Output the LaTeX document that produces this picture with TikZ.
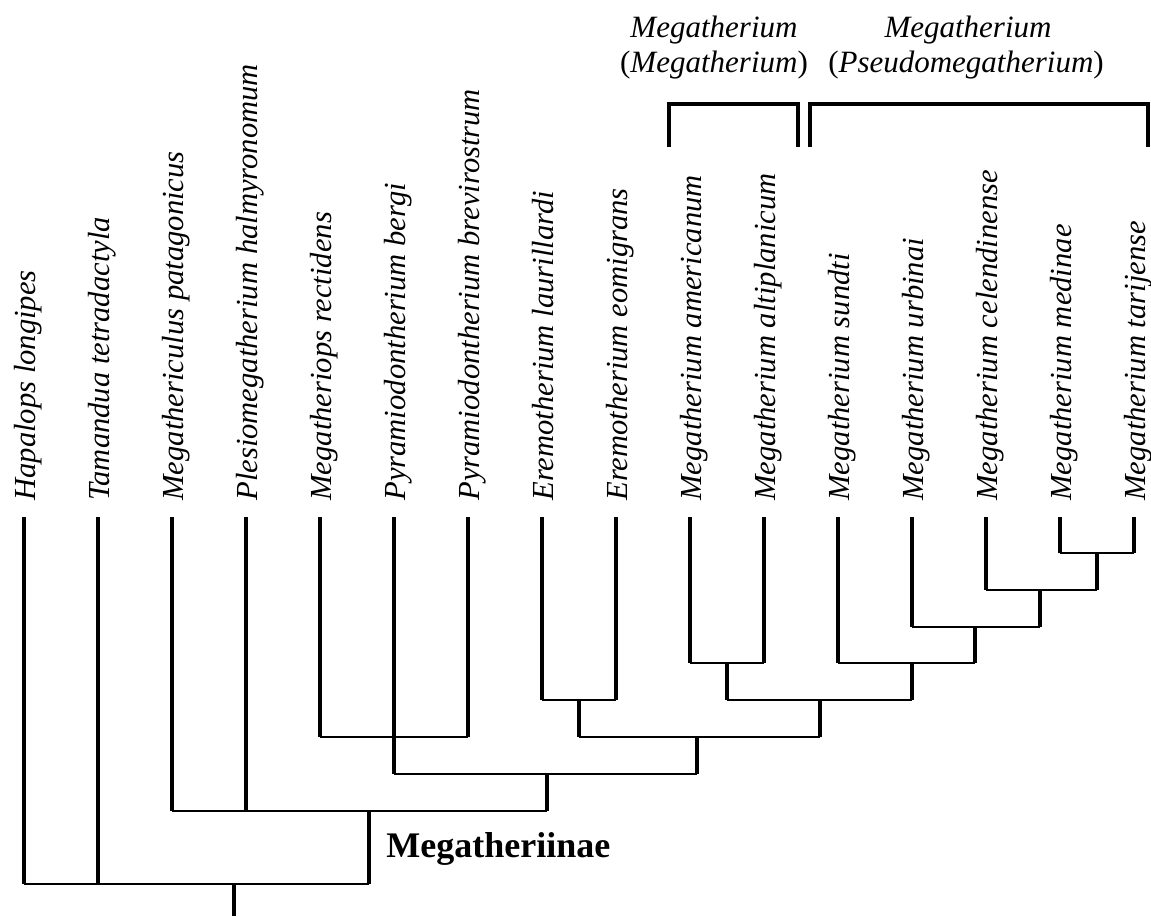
\documentclass[tikz,border=0pt]{standalone}
\usepackage{fontspec}
\setmainfont{Liberation Serif}
\usetikzlibrary{positioning,calc}

\tikzset{
  taxon/.style={rotate=90, anchor=base west, inner sep=0pt, font=\fontsize{15.3}{18}\selectfont\itshape},
  grouplabel/.style={anchor=base, inner sep=0pt, font=\fontsize{15.5}{18}\selectfont},
  vline/.style={line width=2pt},
  hline/.style={line width=1.35pt, line cap=square},
  bracket/.style={line width=2pt}
}

% vertical branch from a child down to the bar of its parent
\newcommand{\branch}[2]{\draw[vline] (#1) -- (#1 |- #2);}
% horizontal bar of a clade, from child #1 to child #2
\newcommand{\cladebar}[3]{\draw[hline] (#1 |- #3) -- (#2 |- #3);}

\begin{document}
\begin{tikzpicture}[x=0.5pt, y=-0.5pt]
    \useasboundingbox (0,0) rectangle (1151,916);

    % tips
    \coordinate (hap) at (23.5,517);
    \coordinate (tam) at (97.5,517);
    \coordinate (mgc) at (171.5,517);
    \coordinate (ple) at (245.5,517);
    \coordinate (mgp) at (319.5,517);
    \coordinate (pbe) at (393.5,517);
    \coordinate (pbr) at (467.5,517);
    \coordinate (ela) at (541.5,517);
    \coordinate (eeo) at (615.5,517);
    \coordinate (mam) at (689.5,517);
    \coordinate (mal) at (763.5,517);
    \coordinate (msu) at (837.5,517);
    \coordinate (mur) at (911.5,517);
    \coordinate (mce) at (985.5,517);
    \coordinate (mme) at (1059.5,517);
    \coordinate (mta) at (1133.5,517);

    \node [taxon] (lhap) at (35,501) {Hapalops longipes};
    \node [taxon] (ltam) at (109,501) {Tamandua tetradactyla};
    \node [taxon] (lmgc) at (183,501) {Megathericulus patagonicus};
    \node [taxon] (lple) at (257,501) {Plesiomegatherium halmyronomum};
    \node [taxon] (lmgp) at (331,501) {Megatheriops rectidens};
    \node [taxon] (lpbe) at (405,501) {Pyramiodontherium bergi};
    \node [taxon] (lpbr) at (479,501) {Pyramiodontherium brevirostrum};
    \node [taxon] (lela) at (553,501) {Eremotherium laurillardi};
    \node [taxon] (leeo) at (627,501) {Eremotherium eomigrans};
    \node [taxon] (lmam) at (701,501) {Megatherium americanum};
    \node [taxon] (lmal) at (775,501) {Megatherium altiplanicum};
    \node [taxon] (lmsu) at (849,501) {Megatherium sundti};
    \node [taxon] (lmur) at (923,501) {Megatherium urbinai};
    \node [taxon] (lmce) at (997,501) {Megatherium celendinense};
    \node [taxon] (lmme) at (1071,501) {Megatherium medinae};
    \node [taxon] (lmta) at (1145,501) {Megatherium tarijense};

    % internal nodes (stem x, bar y)
    \coordinate (nmt) at (1097,553);
    \coordinate (nce) at (1040,590);
    \coordinate (nur) at (975,627);
    \coordinate (nsu) at (911.5,663);
    \coordinate (nam) at (726.5,663);
    \coordinate (nmg) at (820,700);
    \coordinate (ner) at (578.5,700);
    \coordinate (nem) at (697,737);
    \coordinate (npr) at (393.5,737);
    \coordinate (npb) at (546.5,774);
    \coordinate (nmi) at (369,811);
    \coordinate (root) at (234,884);
    \coordinate (base) at (234,916);

    % branches
    \branch{hap}{root} \branch{tam}{root} \branch{nmi}{root}
    \branch{mgc}{nmi} \branch{ple}{nmi} \branch{npb}{nmi}
    \branch{pbe}{npb} \branch{nem}{npb}
    \branch{mgp}{npr} \branch{pbr}{npr}
    \branch{ner}{nem} \branch{nmg}{nem}
    \branch{ela}{ner} \branch{eeo}{ner}
    \branch{nam}{nmg} \branch{nsu}{nmg}
    \branch{mam}{nam} \branch{mal}{nam}
    \branch{msu}{nsu} \branch{nur}{nsu}
    \branch{mur}{nur} \branch{nce}{nur}
    \branch{mce}{nce} \branch{nmt}{nce}
    \branch{mme}{nmt} \branch{mta}{nmt}
    \draw[vline] (root) -- (base);

    % bars
    \cladebar{hap}{nmi}{root}
    \cladebar{mgc}{npb}{nmi}
    \cladebar{pbe}{nem}{npb}
    \cladebar{mgp}{pbr}{npr}
    \cladebar{ner}{nmg}{nem}
    \cladebar{ela}{eeo}{ner}
    \cladebar{nam}{nsu}{nmg}
    \cladebar{mam}{mal}{nam}
    \cladebar{msu}{nur}{nsu}
    \cladebar{mur}{nce}{nur}
    \cladebar{mce}{nmt}{nce}
    \cladebar{mme}{mta}{nmt}

    \node [anchor=base west, inner sep=0pt, font=\fontsize{18}{21}\selectfont\bfseries] (mgtlab) at (386,857) {Megatheriinae};

    % subgenera
    \node [grouplabel] (sgA1) at (714,37) {\itshape Megatherium};
    \node [grouplabel] (sgA2) at (714,72) {(\textit{Megatherium})};
    \node [grouplabel] (sgB1) at (968,37) {\itshape Megatherium};
    \node [grouplabel] (sgB2) at (966,72) {(\textit{Pseudomegatherium})};
    \coordinate (brA1) at (669,147);
    \coordinate (brA2) at (798,147);
    \coordinate (brB1) at (810,147);
    \coordinate (brB2) at (1148,147);
    \draw[bracket] (brA1) -- ++(0,-43) -| (brA2);
    \draw[bracket] (brB1) -- ++(0,-43) -| (brB2);
\end{tikzpicture}
\end{document}
